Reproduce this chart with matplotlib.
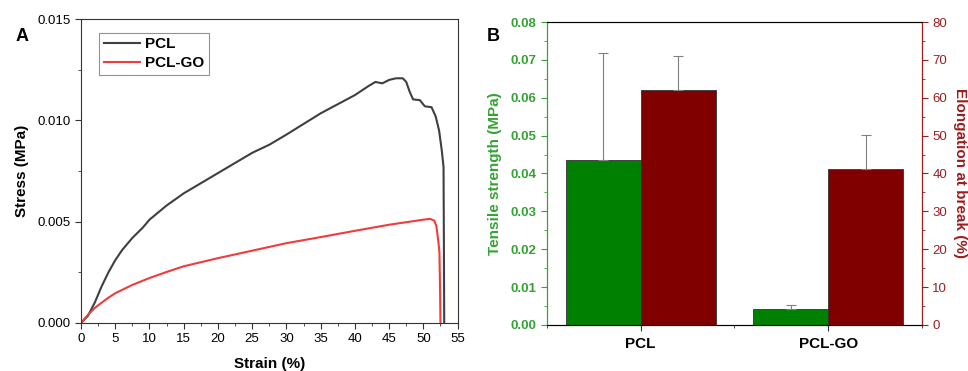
"""
Tensile test of PCL and PCL-GO scaffolds
(A) stress-strain curves, (B) tensile strength / elongation at break
"""
import numpy as np
import matplotlib.pyplot as plt
from matplotlib.ticker import MultipleLocator

plt.rcParams['font.family'] = ['Liberation Sans', 'DejaVu Sans']

# ---- panel A data ----
pcl_strain = [0, 1, 2, 3, 4, 5, 6, 7.5, 9, 10, 12.5, 15, 17.5, 20, 22.5, 25,
              27.5, 30, 35, 40, 42, 43, 44, 45, 46, 47, 47.5, 48, 48.5, 49.5,
              50.2, 51.2, 51.8, 52.3, 52.7, 52.95, 53.0, 53.05]
pcl_stress = [0, 0.00035, 0.001, 0.0018, 0.0025, 0.0031, 0.0036, 0.0042,
              0.0047, 0.0051, 0.0058, 0.0064, 0.0069, 0.0074, 0.0079, 0.0084,
              0.0088, 0.0093, 0.01035, 0.01125, 0.0117, 0.0119, 0.01183, 0.0120,
              0.01208, 0.01208, 0.0119, 0.01142, 0.01104, 0.0110, 0.0107,
              0.01065, 0.0102, 0.0095, 0.0085, 0.0077, 0.004, 0.0]
go_strain = [0, 0.5, 1, 2, 3, 4, 5, 7.5, 10, 12.5, 15, 17.5, 20, 25, 30, 35,
             40, 45, 50, 51, 51.6, 51.9, 52.2, 52.35, 52.45, 52.5]
go_stress = [0, 0.0002, 0.0004, 0.00074, 0.001, 0.00125, 0.00147, 0.00188,
             0.00222, 0.00252, 0.0028, 0.003, 0.0032, 0.00357, 0.00394, 0.00424,
             0.00455, 0.00485, 0.0051, 0.00514, 0.00505, 0.0048, 0.004, 0.0035,
             0.0015, 0.0]

# ---- panel B data ----
samples = ['PCL', 'PCL-GO']
tensile = [0.0435, 0.0041]
tensile_err = [0.0283, 0.0012]
elongation = [62.1, 41.2]
elongation_err = [9.0, 9.0]

green_bar = '#008000'
red_bar = '#800000'
green_txt = '#34a334'
red_txt = '#9a1f1f'

fig = plt.figure(figsize=(9.68, 3.71), dpi=100)

# ---------------- A ----------------
axA = fig.add_axes([0.0837, 0.1294, 0.389, 0.819])
axA.plot(pcl_strain, pcl_stress, color='#3f3f3f', lw=1.5, label='PCL')
axA.plot(go_strain, go_stress, color='#f03c3c', lw=1.5, label='PCL-GO')
axA.set_xlim(0, 55)
axA.set_ylim(0, 0.015)
axA.xaxis.set_major_locator(MultipleLocator(5))
axA.xaxis.set_minor_locator(MultipleLocator(2.5))
axA.yaxis.set_major_locator(MultipleLocator(0.005))
axA.yaxis.set_minor_locator(MultipleLocator(0.0025))
axA.yaxis.set_major_formatter(plt.FormatStrFormatter('%.3f'))
axA.tick_params(which='both', direction='out', labelsize=9.5, color='#333333')
axA.tick_params(which='major', length=4)
axA.tick_params(which='minor', length=2.5)
for s in axA.spines.values():
    s.set_color('#333333')
axA.set_xlabel('Strain (%)', fontsize=11, fontweight='bold', labelpad=8)
axA.set_ylabel('Stress (MPa)', fontsize=11, fontweight='bold', labelpad=6)
leg = axA.legend(loc='upper left', bbox_to_anchor=(0.04, 0.965),
                 prop={'weight': 'bold', 'size': 11}, fancybox=False,
                 edgecolor='#777777', handlelength=2.4, borderpad=0.3,
                 labelspacing=0.3, handletextpad=0.3, borderaxespad=0.2)
leg.get_frame().set_linewidth(0.8)
fig.text(0.016, 0.89, 'A', fontsize=13, fontweight='bold')

# ---------------- B ----------------
axB = fig.add_axes([0.565, 0.124, 0.3874, 0.8167])
x = np.arange(1, len(samples) + 1)
w = 0.4
errkw = dict(ecolor='#808080', elinewidth=0.8, capsize=3.5, capthick=0.8)
axB.bar(x - w / 2, tensile, w, color=green_bar, edgecolor='#333333', lw=0.6,
        yerr=[[0, 0], tensile_err], error_kw=errkw)
axB.set_xlim(0.5, 2.5)
axB.set_ylim(0, 0.08)
axB.set_xticks(x)
axB.set_xticklabels(samples, fontsize=11, fontweight='bold')
axB.xaxis.set_minor_locator(MultipleLocator(0.5))
axB.yaxis.set_major_locator(MultipleLocator(0.01))
axB.yaxis.set_minor_locator(MultipleLocator(0.005))
axB.yaxis.set_major_formatter(plt.FormatStrFormatter('%.2f'))
axB.tick_params(axis='y', which='both', colors=green_txt, labelsize=9.5)
axB.tick_params(axis='x', which='both', color='#333333', pad=5)
axB.tick_params(which='major', length=4)
axB.tick_params(which='minor', length=2.5)
for lab in axB.get_yticklabels():
    lab.set_fontweight('bold')
axB.set_ylabel('Tensile strength (MPa)', fontsize=11, fontweight='bold',
               color=green_txt, labelpad=6)
axB.spines['left'].set_color(green_txt)
axB.spines['top'].set_color('#333333')
axB.spines['bottom'].set_color('#333333')

axB2 = axB.twinx()
axB2.bar(x + w / 2, elongation, w, color=red_bar, edgecolor='#333333', lw=0.6,
         yerr=[[0, 0], elongation_err], error_kw=errkw)
axB2.set_ylim(0, 80)
axB2.yaxis.set_major_locator(MultipleLocator(10))
axB2.yaxis.set_minor_locator(MultipleLocator(5))
axB2.tick_params(axis='y', which='both', colors=red_txt, labelsize=9.5)
axB2.tick_params(which='major', length=4)
axB2.tick_params(which='minor', length=2.5)
axB2.spines['right'].set_color(red_txt)
axB2.spines['left'].set_color(green_txt)
axB2.set_ylabel('Elongation at break (%)', fontsize=11, fontweight='bold',
                color=red_txt, rotation=270, labelpad=14)
fig.text(0.503, 0.89, 'B', fontsize=13, fontweight='bold')

fig.savefig('out.png', dpi=100)
